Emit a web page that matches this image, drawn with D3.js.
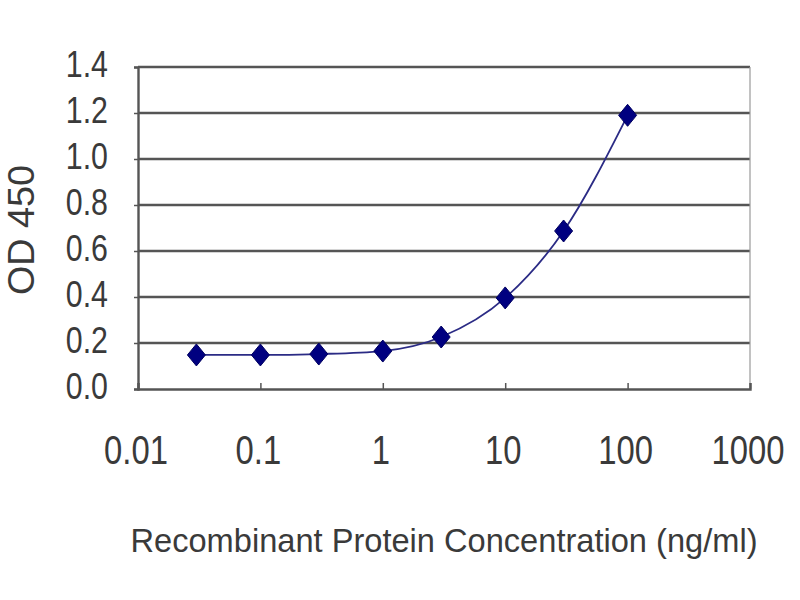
<!DOCTYPE html>
<html><head><meta charset="utf-8">
<script src="https://cdn.jsdelivr.net/npm/d3@7"></script>
<style>body{margin:0;background:#fff}</style>
</head><body>
<script>
const concentrations = [0.03, 0.1, 0.3, 1, 3, 10, 30, 100];
const odValues = [0.148, 0.148, 0.152, 0.165, 0.226, 0.396, 0.687, 1.19];
const xTickValues = [0.01, 0.1, 1, 10, 100, 1000];
const xTickLabels = ["0.01", "0.1", "1", "10", "100", "1000"];
const yTickValues = [0, 0.2, 0.4, 0.6, 0.8, 1.0, 1.2, 1.4];
const yTickLabels = ["0.0", "0.2", "0.4", "0.6", "0.8", "1.0", "1.2", "1.4"];

const W = 800, H = 600;
const L = 138, R = 750, T = 67, B = 389;
const svg = d3.select("body").append("svg").attr("width", W).attr("height", H);
const x = d3.scaleLog().domain([0.01, 1000]).range([L, R]);
const y = d3.scaleLinear().domain([0, 1.4]).range([B, T]);
const font = "'Liberation Sans', Arial, sans-serif";

// gridlines
svg.append("g").selectAll("line").data(yTickValues.filter(v => v > 0)).join("line")
  .attr("x1", L).attr("x2", R).attr("y1", d => y(d)).attr("y2", d => y(d))
  .attr("stroke", "#555").attr("stroke-width", 2.4);
// right border
svg.append("line").attr("x1", R).attr("x2", R).attr("y1", T).attr("y2", B)
  .attr("stroke", "#999").attr("stroke-width", 1.2);

// y axis
const yAxis = svg.append("g").attr("transform", `translate(${L},0)`)
  .call(d3.axisLeft(y).tickValues(yTickValues).tickSize(4).tickFormat(""));
yAxis.select(".domain").attr("stroke", "#555").attr("stroke-width", 2.4);
yAxis.selectAll(".tick line").attr("stroke", "#555").attr("stroke-width", 1.5);

// x axis
const xAxis = svg.append("g").attr("transform", `translate(0,${B})`)
  .call(d3.axisBottom(x).tickValues(xTickValues).tickSize(-6).tickFormat(""));
xAxis.select(".domain").attr("stroke", "#555").attr("stroke-width", 2.4);
xAxis.selectAll(".tick line").attr("stroke", "#555").attr("stroke-width", 1.5);

// y tick labels
svg.append("g").selectAll("text").data(yTickValues).join("text")
  .attr("class", "cond")
  .attr("x", 108).attr("y", d => y(d) - 3)
  .attr("text-anchor", "end").attr("dominant-baseline", "central")
  .attr("font-family", font).attr("font-size", 37).attr("fill", "#3a3a3a")
  .text((d, i) => yTickLabels[i]);

// x tick labels
svg.append("g").selectAll("text").data(xTickValues).join("text")
  .attr("class", "cond")
  .attr("x", d => x(d) - 2).attr("y", 450)
  .attr("text-anchor", "middle").attr("dominant-baseline", "central")
  .attr("font-family", font).attr("font-size", 40).attr("fill", "#3a3a3a")
  .text((d, i) => xTickLabels[i]);

// axis titles
svg.append("text")
  .attr("transform", "translate(21,230) rotate(-90)")
  .attr("text-anchor", "middle").attr("dominant-baseline", "central")
  .attr("font-family", font).attr("font-size", 36).attr("fill", "#3a3a3a")
  .attr("textLength", 130).attr("lengthAdjust", "spacingAndGlyphs")
  .text("OD 450");
svg.append("text")
  .attr("x", 444).attr("y", 540)
  .attr("text-anchor", "middle").attr("dominant-baseline", "central")
  .attr("font-family", font).attr("font-size", 34).attr("fill", "#3a3a3a")
  .attr("textLength", 627).attr("lengthAdjust", "spacingAndGlyphs")
  .text("Recombinant Protein Concentration (ng/ml)");

// condense labels
svg.selectAll("text.cond").each(function() {
  const w = this.getComputedTextLength();
  d3.select(this).attr("textLength", w * 0.82).attr("lengthAdjust", "spacingAndGlyphs");
});

const data = concentrations.map((c, i) => ({c, v: odValues[i]}));
// curve
svg.append("path").datum(data)
  .attr("d", d3.line().x(d => x(d.c)).y(d => y(d.v)).curve(d3.curveMonotoneX))
  .attr("fill", "none").attr("stroke", "#2b2b85").attr("stroke-width", 1.8);

// markers
svg.append("g").selectAll("path").data(data).join("path")
  .attr("transform", d => `translate(${x(d.c)},${y(d.v)})`)
  .attr("d", "M0,-11 L9,0 L0,11 L-9,0 Z")
  .attr("fill", "#000080").attr("stroke", "#000060").attr("stroke-width", 1);
</script>
</body></html>
